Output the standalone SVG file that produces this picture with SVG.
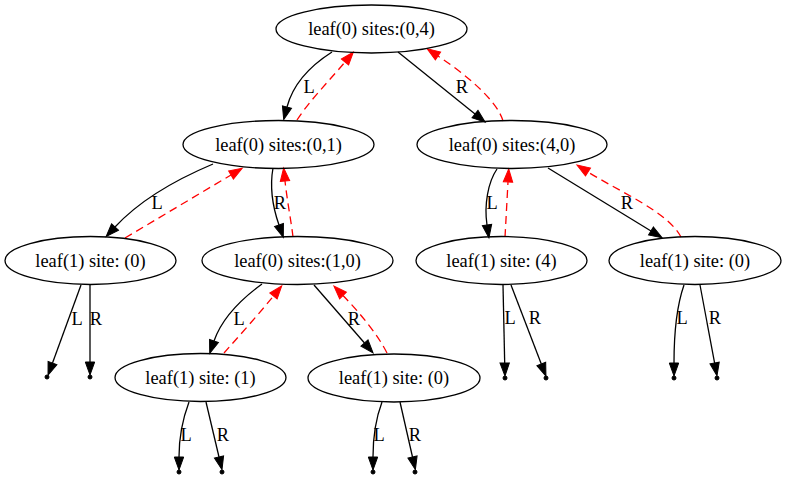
<svg xmlns="http://www.w3.org/2000/svg" width="786" height="479" viewBox="0 0 786 479">
<style>
.node ellipse{fill:none;stroke:#000;stroke-width:1.3}
.pt{fill:#000;stroke:#000}
text{font-family:"Liberation Serif","Times New Roman",serif;font-size:18.4px;fill:#000;text-anchor:middle}
.e{fill:none;stroke:#000;stroke-width:1.3;marker-end:url(#ab)}
.r{fill:none;stroke:#f00;stroke-width:1.3;stroke-dasharray:8,5;marker-end:url(#ar)}
</style>
<defs>
<marker id="ab" markerUnits="userSpaceOnUse" markerWidth="16" markerHeight="12" refX="0" refY="6" orient="auto" overflow="visible">
<path d="M0,1.3 L13,6 L0,10.7 Z" fill="#000" stroke="#000" stroke-width="1"/>
</marker>
<marker id="ar" markerUnits="userSpaceOnUse" markerWidth="16" markerHeight="12" refX="0" refY="6" orient="auto" overflow="visible">
<path d="M0,1.3 L13,6 L0,10.7 Z" fill="#f00" stroke="#f00" stroke-width="1"/>
</marker>
</defs>
<rect width="786" height="479" fill="#fff"/>
<g id="edges">
<path class="e" d="M332,52 C310,66 293,84 287,107"/>
<text x="309" y="93">L</text>
<path class="r" d="M297,120 C310,100 330,80 345,62"/>
<path class="e" d="M398,52 L475,114"/>
<text x="462" y="93">R</text>
<path class="r" d="M503,121 C497,100 465,74 438,56"/>
<path class="e" d="M213,164 C175,180 140,200 115,227"/>
<text x="157" y="209">L</text>
<path class="r" d="M125,238 L231,175"/>
<path class="e" d="M273,168 C270,185 272,205 279,225"/>
<text x="280" y="209">R</text>
<path class="r" d="M293,237 C291,220 287,200 285,181"/>
<path class="e" d="M262,284 C240,300 222,318 214,341"/>
<text x="239" y="325">L</text>
<path class="r" d="M224,353 C240,335 258,315 273.5,296"/>
<path class="e" d="M314,285 L364.5,343"/>
<text x="354" y="325">R</text>
<path class="r" d="M387,353 C378,335 360,313 343,295.5"/>
<path class="e" d="M497,169 C488,182 484,205 487,225"/>
<text x="492" y="209">L</text>
<path class="r" d="M505,237 C506,220 507,200 508,182"/>
<path class="e" d="M548,168 L651,231"/>
<text x="627" y="209">R</text>
<path class="r" d="M681,237 C668,212 620,192 588,172"/>
<path class="e" d="M81,285 L52.5,363"/>
<text x="77" y="325">L</text>
<path class="e" d="M90,285 L90,362"/>
<text x="96" y="325">R</text>
<path class="e" d="M189,402 C183,418 179,435 179,457"/>
<text x="186" y="441">L</text>
<path class="e" d="M206,402 L219,457"/>
<text x="223" y="441">R</text>
<path class="e" d="M382,402 C376,418 373,435 373,457"/>
<text x="379" y="441">L</text>
<path class="e" d="M400,402 L412.5,457"/>
<text x="415" y="441">R</text>
<path class="e" d="M503,285 L504.7,363"/>
<text x="510" y="324">L</text>
<path class="e" d="M511,285 L541.3,364"/>
<text x="535" y="324">R</text>
<path class="e" d="M684,285 C677,305 674,330 674,363"/>
<text x="682" y="324">L</text>
<path class="e" d="M700,285 L714.6,363"/>
<text x="715" y="324">R</text>
</g>
<g id="n0" class="node"><ellipse cx="371.5" cy="29" rx="95.5" ry="24"/><text x="371.5" y="35">leaf(0) sites:(0,4)</text></g>
<g id="n1" class="node"><ellipse cx="278.5" cy="144.5" rx="95.5" ry="24"/><text x="278.5" y="150.5">leaf(0) sites:(0,1)</text></g>
<g id="n2" class="node"><ellipse cx="512" cy="144.5" rx="95" ry="24"/><text x="512" y="150.5">leaf(0) sites:(4,0)</text></g>
<g id="n3" class="node"><ellipse cx="90.5" cy="260.5" rx="85.5" ry="24"/><text x="90.5" y="266.5">leaf(1) site: (0)</text></g>
<g id="n4" class="node"><ellipse cx="297.5" cy="260.5" rx="95.5" ry="24"/><text x="297.5" y="266.5">leaf(0) sites:(1,0)</text></g>
<g id="n5" class="node"><ellipse cx="501.5" cy="260.5" rx="85.5" ry="24"/><text x="501.5" y="266.5">leaf(1) site: (4)</text></g>
<g id="n6" class="node"><ellipse cx="695" cy="260.5" rx="86" ry="24"/><text x="695" y="266.5">leaf(1) site: (0)</text></g>
<g id="n7" class="node"><ellipse cx="200.5" cy="377.5" rx="85.5" ry="24"/><text x="200.5" y="383.5">leaf(1) site: (1)</text></g>
<g id="n8" class="node"><ellipse cx="394" cy="378" rx="86" ry="24"/><text x="394" y="384">leaf(1) site: (0)</text></g>
<g id="p1"><circle class="pt" cx="47" cy="377" r="2"/></g>
<g id="p2"><circle class="pt" cx="90" cy="377" r="2"/></g>
<g id="p3"><circle class="pt" cx="179" cy="472" r="2"/></g>
<g id="p4"><circle class="pt" cx="222" cy="472" r="2"/></g>
<g id="p5"><circle class="pt" cx="373" cy="472" r="2"/></g>
<g id="p6"><circle class="pt" cx="415" cy="472" r="2"/></g>
<g id="p7"><circle class="pt" cx="505" cy="378" r="2"/></g>
<g id="p8"><circle class="pt" cx="546" cy="378" r="2"/></g>
<g id="p9"><circle class="pt" cx="674" cy="378" r="2"/></g>
<g id="p10"><circle class="pt" cx="717" cy="378" r="2"/></g>
</svg>
